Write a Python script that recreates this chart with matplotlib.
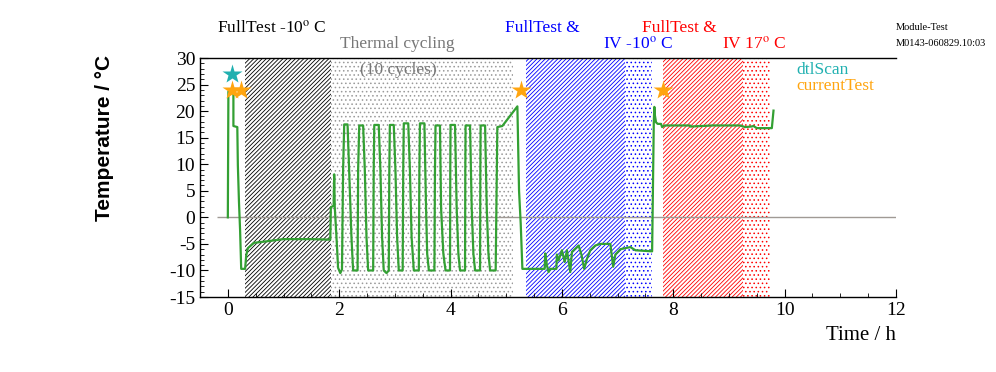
import matplotlib
matplotlib.use("Agg")
import matplotlib.pyplot as plt
from matplotlib.ticker import MultipleLocator

plt.rcParams["font.family"] = ["Liberation Serif", "DejaVu Serif"]
plt.rcParams["mathtext.fontset"] = "stix"
plt.rcParams["hatch.linewidth"] = 0.6
plt.rcParams["axes.unicode_minus"] = False

# ── Daten ─────────────────────────────────────────────────────────────────────

time_h = [
    0.00, 0.01, 0.10, 0.10, 0.17, 0.18, 0.20, 0.22, 0.24, 0.31, 0.33, 0.36,
    0.47, 0.71, 1.00, 1.50, 1.84, 1.85, 1.90, 1.91, 1.92, 1.95, 1.98, 2.02,
    2.05, 2.07, 2.09, 2.15, 2.18, 2.22, 2.25, 2.33,
    2.34, 2.36, 2.43, 2.46, 2.49, 2.52, 2.61,
    2.62, 2.63, 2.71, 2.74, 2.77, 2.80, 2.85, 2.89,
    2.90, 2.91, 2.98, 3.01, 3.04, 3.07, 3.14,
    3.15, 3.16, 3.24, 3.27, 3.30, 3.34, 3.43,
    3.44, 3.45, 3.53, 3.56, 3.58, 3.61, 3.71,
    3.72, 3.73, 3.81, 3.83, 3.87, 3.91, 3.99,
    3.995, 4.00, 4.08, 4.11, 4.14, 4.17, 4.26,
    4.265, 4.27, 4.35, 4.38, 4.41, 4.44, 4.53,
    4.535, 4.54, 4.62, 4.65, 4.68, 4.71, 4.81,
    4.83, 4.84, 4.93, 5.20, 5.23, 5.26, 5.29,
    5.69, 5.70, 5.73, 5.76, 5.79, 5.90, 5.91, 5.94, 6.00, 6.05, 6.09,
    6.15, 6.18, 6.24, 6.30, 6.35, 6.40, 6.45, 6.51, 6.60, 6.69, 6.87,
    6.92, 6.96, 7.05, 7.23, 7.32, 7.62, 7.65, 7.66, 7.67, 7.69, 7.72,
    7.78, 7.80, 7.84, 8.30, 8.31, 8.70, 9.20, 9.29, 9.40, 9.44, 9.50,
    9.77, 9.80,
]
temp_c = [
    0.0, 23.7, 23.7, 17.2, 17.0, 9.8, 2.9, -2.4, -9.7, -9.7, -7.2, -5.8,
    -4.8, -4.5, -4.1, -4.1, -4.2, 1.9, 2.2, 8.1, 2.0, -3.5, -9.5, -10.5,
    -9.8, 9.0, 17.5, 17.5, 8.5, -3.7, -10.0, -10.0,
    9.0, 17.3, 17.3, 8.9, -3.7, -10.0, -10.0,
    9.0, 17.4, 17.4, 8.9, -3.7, -10.0, -10.5, -10.0,
    9.0, 17.4, 17.4, 8.9, -3.7, -10.0, -10.0,
    9.0, 17.7, 17.7, 8.9, -3.7, -10.0, -10.0,
    9.0, 17.7, 17.7, 1.7, -6.8, -10.0, -10.0,
    9.0, 17.3, 17.3, 1.7, -6.8, -10.0, -10.0,
    9.0, 17.4, 17.4, 1.7, -6.8, -10.0, -10.0,
    9.0, 17.3, 17.3, 1.7, -6.8, -10.0, -10.0,
    9.0, 17.3, 17.3, 1.7, -6.8, -10.0, -10.0,
    9.0, 17.0, 17.2, 20.9, 5.0, -1.2, -9.7,
    -9.7, -6.8, -9.0, -10.3, -9.7, -9.7, -7.0, -8.1, -6.2, -8.4, -6.2,
    -10.3, -6.5, -5.9, -5.3, -7.0, -9.7, -7.8, -6.2, -5.3, -5.0, -5.0,
    -9.3, -7.0, -6.0, -5.6, -6.2, -6.4, 18.0, 20.8, 19.2, 17.9, 17.6,
    17.6, 17.0, 17.3, 17.3, 17.1, 17.3, 17.3, 17.0, 17.1, 17.2, 16.8,
    16.8, 20.1,
]

# Messphasen: (start, ende, farbe, muster)
phase_start = [0.30, 1.85, 5.36, 7.14, 7.82, 9.26]
phase_end   = [1.85, 5.13, 7.14, 7.62, 9.26, 9.74]
phase_color = ["black", "#9a9a9a", "blue", "blue", "red", "red"]
phase_hatch = ["////////", "....", "////////", "....", "////////", "...."]

dtl_t, dtl_T = [0.07], [27.0]
cur_t = [0.07, 0.23, 5.27, 7.82]
cur_T = [24.0, 24.0, 24.0, 24.0]

# ── Plot ──────────────────────────────────────────────────────────────────────

fig = plt.figure(figsize=(9.96, 3.72), dpi=100)
ax = fig.add_axes([0.2008, 0.2016, 0.6988, 0.6424])

for x0, x1, c, h in zip(phase_start, phase_end, phase_color, phase_hatch):
    ax.axvspan(x0, x1, facecolor="none", edgecolor=c, hatch=h, linewidth=0, zorder=1)

ax.hlines(0, -0.2, 12, color="#a09a95", lw=1.0, zorder=2)
ax.plot(time_h, temp_c, color="#33a033", lw=1.6, zorder=3)

ax.plot(dtl_t, dtl_T, "*", color="#20b0b0", ms=15, mec="none", zorder=4)
ax.plot(cur_t, cur_T, "*", color="#ffa510", ms=15, mec="none", zorder=4)

ax.set_xlim(-0.5, 12)
ax.set_ylim(-15, 30)
ax.xaxis.set_major_locator(MultipleLocator(2))
ax.xaxis.set_minor_locator(MultipleLocator(0.5))
ax.yaxis.set_major_locator(MultipleLocator(5))
ax.yaxis.set_minor_locator(MultipleLocator(1))
ax.tick_params(which="both", direction="in", labelsize=14, top=False, right=False)
ax.tick_params(which="major", length=6)
ax.tick_params(which="minor", length=3)
ax.spines["right"].set_visible(False)
for s in ["left", "bottom", "top"]:
    ax.spines[s].set_linewidth(1.0)

fig.text(0.8996, 0.097, "Time / h", ha="right", va="center", fontsize=15)
fig.text(0.105, 0.63, "Temperature / °C", rotation=90, ha="center", va="center",
         fontsize=15, fontweight="bold", family=["Liberation Sans", "DejaVu Sans"])

def ftxt(px, py, s, color="black", size=12.5):
    fig.text(px / 996, 1 - py / 372, s, ha="left", va="center", color=color, fontsize=size)

ftxt(217, 28, r"FullTest -10$^{\mathrm{o}}$ C")
ftxt(340, 44, "Thermal cycling", color="#777777")
ftxt(360, 70, "(10 cycles)", color="#777777")
ftxt(505, 28, "FullTest &", color="blue")
ftxt(603, 44, r"IV -10$^{\mathrm{o}}$ C", color="blue")
ftxt(642, 28, "FullTest &", color="red")
ftxt(722, 44, r"IV 17$^{\mathrm{o}}$ C", color="red")
ftxt(896, 28, "Module-Test", size=7.5)
ftxt(896, 44, "M0143-060829.10:03", size=7.5)
ftxt(796, 70, "dtlScan", color="#20b0b0")
ftxt(796, 86, "currentTest", color="#ffa510")

fig.savefig("out.png", dpi=100)
